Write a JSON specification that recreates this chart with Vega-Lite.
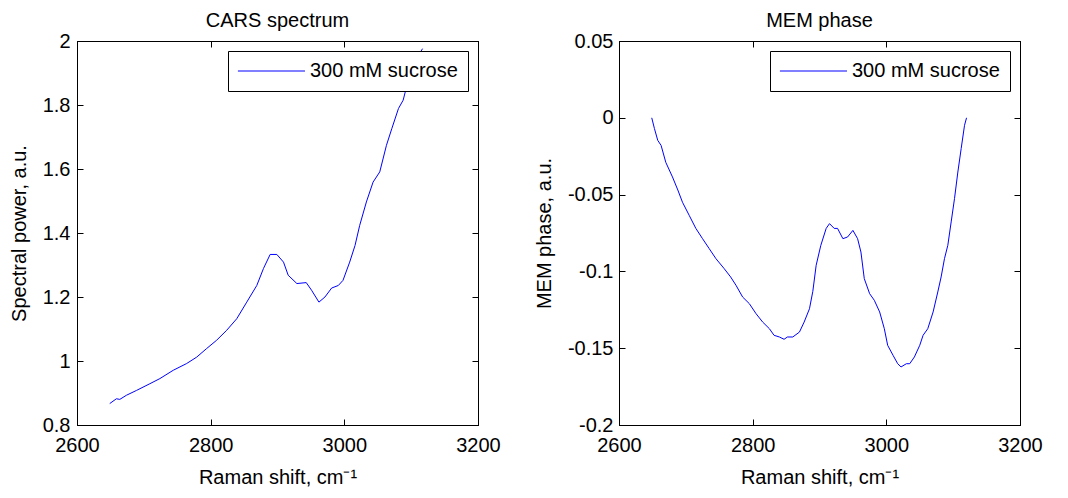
{
  "$schema": "https://vega.github.io/schema/vega-lite/v6.json",
  "background": "white",
  "padding": {"left": 8, "top": 10, "right": 10, "bottom": 5},
  "config": {
    "font": "Liberation Sans",
    "view": {"stroke": "black", "strokeWidth": 1},
    "axis": {
      "labelFont": "Liberation Sans", "labelFontSize": 20, "labelColor": "black",
      "titleFont": "Liberation Sans", "titleFontSize": 20, "titleFontWeight": "normal", "titleColor": "black",
      "domainColor": "black", "tickColor": "black", "tickSize": -6, "grid": false,
      "labelFlush": false, "labelOverlap": false, "labelBound": false, "minExtent": 0
    },
    "axisX": {"labelPadding": 16.5, "titlePadding": 12},
    "axisY": {"labelPadding": 13, "titlePadding": 13},
    "title": {"font": "Liberation Sans", "fontSize": 20, "fontWeight": "normal", "color": "black", "baseline": "alphabetic", "offset": 15},
    "legend": {
      "orient": "top-right", "offset": 10, "fillColor": "white", "strokeColor": "black",
      "padding": 10, "cornerRadius": 0, "symbolType": "M-1,0H11", "symbolSize": 125, "symbolOffset": -4.5,
      "symbolStrokeWidth": 1, "labelOffset": 56.5, "labelFont": "Liberation Sans",
      "labelFontSize": 20, "labelColor": "black", "labelLimit": 400
    }
  },
  "datasets": {
    "cars": [
      {"shift": 2649, "power": 0.867, "series": "300 mM sucrose"},
      {"shift": 2659, "power": 0.882, "series": "300 mM sucrose"},
      {"shift": 2664, "power": 0.880, "series": "300 mM sucrose"},
      {"shift": 2674, "power": 0.893, "series": "300 mM sucrose"},
      {"shift": 2689, "power": 0.908, "series": "300 mM sucrose"},
      {"shift": 2709, "power": 0.929, "series": "300 mM sucrose"},
      {"shift": 2724, "power": 0.945, "series": "300 mM sucrose"},
      {"shift": 2744, "power": 0.971, "series": "300 mM sucrose"},
      {"shift": 2764, "power": 0.992, "series": "300 mM sucrose"},
      {"shift": 2779, "power": 1.012, "series": "300 mM sucrose"},
      {"shift": 2794, "power": 1.039, "series": "300 mM sucrose"},
      {"shift": 2809, "power": 1.065, "series": "300 mM sucrose"},
      {"shift": 2824, "power": 1.096, "series": "300 mM sucrose"},
      {"shift": 2839, "power": 1.132, "series": "300 mM sucrose"},
      {"shift": 2854, "power": 1.184, "series": "300 mM sucrose"},
      {"shift": 2869, "power": 1.236, "series": "300 mM sucrose"},
      {"shift": 2879, "power": 1.289, "series": "300 mM sucrose"},
      {"shift": 2889, "power": 1.333, "series": "300 mM sucrose"},
      {"shift": 2899, "power": 1.333, "series": "300 mM sucrose"},
      {"shift": 2909, "power": 1.309, "series": "300 mM sucrose"},
      {"shift": 2916, "power": 1.268, "series": "300 mM sucrose"},
      {"shift": 2929, "power": 1.242, "series": "300 mM sucrose"},
      {"shift": 2943, "power": 1.245, "series": "300 mM sucrose"},
      {"shift": 2951, "power": 1.221, "series": "300 mM sucrose"},
      {"shift": 2962, "power": 1.184, "series": "300 mM sucrose"},
      {"shift": 2971, "power": 1.200, "series": "300 mM sucrose"},
      {"shift": 2981, "power": 1.228, "series": "300 mM sucrose"},
      {"shift": 2991, "power": 1.236, "series": "300 mM sucrose"},
      {"shift": 2998, "power": 1.252, "series": "300 mM sucrose"},
      {"shift": 3008, "power": 1.309, "series": "300 mM sucrose"},
      {"shift": 3016, "power": 1.361, "series": "300 mM sucrose"},
      {"shift": 3023, "power": 1.424, "series": "300 mM sucrose"},
      {"shift": 3033, "power": 1.497, "series": "300 mM sucrose"},
      {"shift": 3043, "power": 1.559, "series": "300 mM sucrose"},
      {"shift": 3053, "power": 1.591, "series": "300 mM sucrose"},
      {"shift": 3063, "power": 1.674, "series": "300 mM sucrose"},
      {"shift": 3071, "power": 1.726, "series": "300 mM sucrose"},
      {"shift": 3081, "power": 1.789, "series": "300 mM sucrose"},
      {"shift": 3088, "power": 1.815, "series": "300 mM sucrose"},
      {"shift": 3093, "power": 1.856, "series": "300 mM sucrose"},
      {"shift": 3101, "power": 1.908, "series": "300 mM sucrose"},
      {"shift": 3111, "power": 1.955, "series": "300 mM sucrose"},
      {"shift": 3117, "power": 1.976, "series": "300 mM sucrose"}
    ],
    "mem": [
      {"shift": 2649, "phase": 0.0, "series": "300 mM sucrose"},
      {"shift": 2653, "phase": -0.007, "series": "300 mM sucrose"},
      {"shift": 2658, "phase": -0.0147, "series": "300 mM sucrose"},
      {"shift": 2663, "phase": -0.018, "series": "300 mM sucrose"},
      {"shift": 2670, "phase": -0.029, "series": "300 mM sucrose"},
      {"shift": 2680, "phase": -0.0385, "series": "300 mM sucrose"},
      {"shift": 2688, "phase": -0.047, "series": "300 mM sucrose"},
      {"shift": 2695, "phase": -0.055, "series": "300 mM sucrose"},
      {"shift": 2705, "phase": -0.0635, "series": "300 mM sucrose"},
      {"shift": 2715, "phase": -0.072, "series": "300 mM sucrose"},
      {"shift": 2725, "phase": -0.0787, "series": "300 mM sucrose"},
      {"shift": 2735, "phase": -0.0852, "series": "300 mM sucrose"},
      {"shift": 2745, "phase": -0.0917, "series": "300 mM sucrose"},
      {"shift": 2757, "phase": -0.098, "series": "300 mM sucrose"},
      {"shift": 2767, "phase": -0.1036, "series": "300 mM sucrose"},
      {"shift": 2775, "phase": -0.109, "series": "300 mM sucrose"},
      {"shift": 2785, "phase": -0.1167, "series": "300 mM sucrose"},
      {"shift": 2795, "phase": -0.121, "series": "300 mM sucrose"},
      {"shift": 2805, "phase": -0.1275, "series": "300 mM sucrose"},
      {"shift": 2815, "phase": -0.133, "series": "300 mM sucrose"},
      {"shift": 2825, "phase": -0.1373, "series": "300 mM sucrose"},
      {"shift": 2832, "phase": -0.1416, "series": "300 mM sucrose"},
      {"shift": 2840, "phase": -0.1427, "series": "300 mM sucrose"},
      {"shift": 2847, "phase": -0.1442, "series": "300 mM sucrose"},
      {"shift": 2852, "phase": -0.1427, "series": "300 mM sucrose"},
      {"shift": 2860, "phase": -0.1427, "series": "300 mM sucrose"},
      {"shift": 2870, "phase": -0.1395, "series": "300 mM sucrose"},
      {"shift": 2877, "phase": -0.133, "series": "300 mM sucrose"},
      {"shift": 2885, "phase": -0.1243, "series": "300 mM sucrose"},
      {"shift": 2890, "phase": -0.113, "series": "300 mM sucrose"},
      {"shift": 2895, "phase": -0.096, "series": "300 mM sucrose"},
      {"shift": 2902, "phase": -0.083, "series": "300 mM sucrose"},
      {"shift": 2910, "phase": -0.072, "series": "300 mM sucrose"},
      {"shift": 2915, "phase": -0.0689, "series": "300 mM sucrose"},
      {"shift": 2922, "phase": -0.072, "series": "300 mM sucrose"},
      {"shift": 2927, "phase": -0.072, "series": "300 mM sucrose"},
      {"shift": 2935, "phase": -0.0787, "series": "300 mM sucrose"},
      {"shift": 2942, "phase": -0.0776, "series": "300 mM sucrose"},
      {"shift": 2950, "phase": -0.0733, "series": "300 mM sucrose"},
      {"shift": 2957, "phase": -0.0787, "series": "300 mM sucrose"},
      {"shift": 2962, "phase": -0.0874, "series": "300 mM sucrose"},
      {"shift": 2967, "phase": -0.1047, "series": "300 mM sucrose"},
      {"shift": 2975, "phase": -0.1145, "series": "300 mM sucrose"},
      {"shift": 2982, "phase": -0.1188, "series": "300 mM sucrose"},
      {"shift": 2990, "phase": -0.1264, "series": "300 mM sucrose"},
      {"shift": 2997, "phase": -0.1373, "series": "300 mM sucrose"},
      {"shift": 3002, "phase": -0.1481, "series": "300 mM sucrose"},
      {"shift": 3010, "phase": -0.1546, "series": "300 mM sucrose"},
      {"shift": 3017, "phase": -0.1601, "series": "300 mM sucrose"},
      {"shift": 3022, "phase": -0.1622, "series": "300 mM sucrose"},
      {"shift": 3030, "phase": -0.1601, "series": "300 mM sucrose"},
      {"shift": 3035, "phase": -0.1601, "series": "300 mM sucrose"},
      {"shift": 3042, "phase": -0.1557, "series": "300 mM sucrose"},
      {"shift": 3050, "phase": -0.1481, "series": "300 mM sucrose"},
      {"shift": 3055, "phase": -0.1416, "series": "300 mM sucrose"},
      {"shift": 3062, "phase": -0.1373, "series": "300 mM sucrose"},
      {"shift": 3070, "phase": -0.1264, "series": "300 mM sucrose"},
      {"shift": 3077, "phase": -0.1134, "series": "300 mM sucrose"},
      {"shift": 3082, "phase": -0.1036, "series": "300 mM sucrose"},
      {"shift": 3087, "phase": -0.0917, "series": "300 mM sucrose"},
      {"shift": 3092, "phase": -0.083, "series": "300 mM sucrose"},
      {"shift": 3097, "phase": -0.0678, "series": "300 mM sucrose"},
      {"shift": 3102, "phase": -0.0526, "series": "300 mM sucrose"},
      {"shift": 3107, "phase": -0.0353, "series": "300 mM sucrose"},
      {"shift": 3112, "phase": -0.020, "series": "300 mM sucrose"},
      {"shift": 3117, "phase": -0.0049, "series": "300 mM sucrose"},
      {"shift": 3120, "phase": 0.0, "series": "300 mM sucrose"}
    ]
  },
  "resolve": {"scale": {"color": "independent"}, "legend": {"color": "independent"}},
  "spacing": 32,
  "hconcat": [
    {
      "title": {"text": "CARS spectrum", "fontSize": 20, "baseline": "alphabetic", "offset": -16, "font": "Liberation Sans", "fontWeight": "normal"},
      "width": 401, "height": 384,
      "data": {"name": "cars"},
      "layer": [
        {
          "mark": {"type": "line", "strokeWidth": 1, "clip": true},
          "encoding": {
            "x": {"field": "shift", "type": "quantitative", "scale": {"domain": [2600, 3200], "nice": false, "zero": false},
                  "axis": {"title": "Raman shift, cm⁻¹", "values": [2600, 2800, 3000, 3200], "labelExpr": "'' + datum.value"}},
            "y": {"field": "power", "type": "quantitative", "scale": {"domain": [0.8, 2], "nice": false, "zero": false},
                  "axis": {"title": "Spectral power, a.u.", "values": [0.8, 1, 1.2, 1.4, 1.6, 1.8, 2], "labelExpr": "'' + datum.value"}},
            "color": {"field": "series", "type": "nominal", "scale": {"range": ["#0000ff"]}, "legend": {"title": null}}
          }
        },
        {
          "mark": {"type": "line", "strokeOpacity": 0},
          "encoding": {
            "x": {"field": "shift", "type": "quantitative", "scale": {"domain": [2600, 3200], "nice": false, "zero": false},
                  "axis": {"orient": "top", "title": null, "labels": false, "values": [2600, 2800, 3000, 3200], "minExtent": 0, "maxExtent": 0}},
            "y": {"field": "power", "type": "quantitative", "scale": {"domain": [0.8, 2], "nice": false, "zero": false},
                  "axis": {"orient": "right", "title": null, "labels": false, "values": [0.8, 1, 1.2, 1.4, 1.6, 1.8, 2], "minExtent": 0, "maxExtent": 0}}
          }
        }
      ],
      "resolve": {"scale": {"x": "independent", "y": "independent"}}
    },
    {
      "title": {"text": "MEM phase", "fontSize": 20, "baseline": "alphabetic", "offset": -16, "font": "Liberation Sans", "fontWeight": "normal"},
      "width": 401, "height": 384,
      "data": {"name": "mem"},
      "layer": [
        {
          "mark": {"type": "line", "strokeWidth": 1, "clip": true},
          "encoding": {
            "x": {"field": "shift", "type": "quantitative", "scale": {"domain": [2600, 3200], "nice": false, "zero": false},
                  "axis": {"title": "Raman shift, cm⁻¹", "values": [2600, 2800, 3000, 3200], "labelExpr": "'' + datum.value"}},
            "y": {"field": "phase", "type": "quantitative", "scale": {"domain": [-0.2, 0.05], "nice": false, "zero": false},
                  "axis": {"title": "MEM phase, a.u.", "values": [-0.2, -0.15, -0.1, -0.05, 0, 0.05], "labelExpr": "'' + datum.value", "labelPadding": 12}},
            "color": {"field": "series", "type": "nominal", "scale": {"range": ["#0000ff"]}, "legend": {"title": null}}
          }
        },
        {
          "mark": {"type": "line", "strokeOpacity": 0},
          "encoding": {
            "x": {"field": "shift", "type": "quantitative", "scale": {"domain": [2600, 3200], "nice": false, "zero": false},
                  "axis": {"orient": "top", "title": null, "labels": false, "values": [2600, 2800, 3000, 3200], "minExtent": 0, "maxExtent": 0}},
            "y": {"field": "phase", "type": "quantitative", "scale": {"domain": [-0.2, 0.05], "nice": false, "zero": false},
                  "axis": {"orient": "right", "title": null, "labels": false, "values": [-0.2, -0.15, -0.1, -0.05, 0, 0.05], "minExtent": 0, "maxExtent": 0}}
          }
        }
      ],
      "resolve": {"scale": {"x": "independent", "y": "independent"}}
    }
  ]
}
